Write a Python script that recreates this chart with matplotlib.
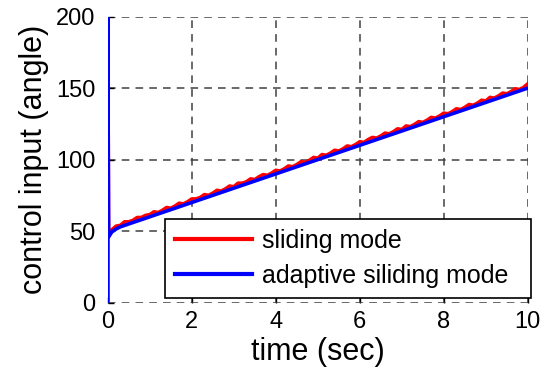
import matplotlib
matplotlib.use("Agg")
import matplotlib.pyplot as plt

plt.rcParams['font.family'] = ['Liberation Sans', 'DejaVu Sans']

# time samples (sec)
t_sliding = [0, 0, 0.02,
             0.1, 0.2, 0.3, 0.4, 0.5, 0.6, 0.7, 0.8, 0.9, 1.0,
             1.1, 1.2, 1.3, 1.4, 1.5, 1.6, 1.7, 1.8, 1.9, 2.0,
             2.1, 2.2, 2.3, 2.4, 2.5, 2.6, 2.7, 2.8, 2.9, 3.0,
             3.1, 3.2, 3.3, 3.4, 3.5, 3.6, 3.7, 3.8, 3.9, 4.0,
             4.1, 4.2, 4.3, 4.4, 4.5, 4.6, 4.7, 4.8, 4.9, 5.0,
             5.1, 5.2, 5.3, 5.4, 5.5, 5.6, 5.7, 5.8, 5.9, 6.0,
             6.1, 6.2, 6.3, 6.4, 6.5, 6.6, 6.7, 6.8, 6.9, 7.0,
             7.1, 7.2, 7.3, 7.4, 7.5, 7.6, 7.7, 7.8, 7.9, 8.0,
             8.1, 8.2, 8.3, 8.4, 8.5, 8.6, 8.7, 8.8, 8.9, 9.0,
             9.1, 9.2, 9.3, 9.4, 9.5, 9.6, 9.7, 9.8, 9.9, 10.0]
u_sliding = [0, 200, 46,
             51, 53.5, 54, 56.5, 56.5, 57.5, 59.5, 59.5, 61, 61.5,
             63.5, 63, 64.5, 66.5, 66, 67.5, 69.5, 69, 70.5, 72.5,
             72.5, 73.5, 75.5, 75, 76.5, 78.5, 78, 79.5, 81.5, 81,
             83.5, 83.5, 84.5, 86.5, 86, 88, 89.5, 89, 90.5, 92.5,
             92, 93.5, 95.5, 95, 96.5, 98.5, 98, 99.5, 101.5, 101,
             103.5, 103, 104.5, 106.5, 106, 107.5, 109.5, 109, 110.5, 112.5,
             112, 114, 115.5, 115, 116.5, 118.5, 118, 119.5, 121.5, 121,
             123.5, 123, 124.5, 126.5, 126, 127.5, 129.5, 129, 130.5, 132.5,
             132, 133.5, 135.5, 135, 136.5, 138.5, 138, 139.5, 141.5, 141,
             143.5, 143, 144.5, 146.5, 146, 147.5, 149.5, 149, 150.5, 153]

t_adaptive = [0, 0, 0.02, 0.1, 0.2, 0.3, 0.4, 0.6, 0.8, 1.0, 1.5, 2.0, 3.0,
              4.0, 5.0, 6.0, 7.0, 8.0, 9.0, 10.0]
u_adaptive = [0, 200, 46, 49.5, 51.5, 53, 54, 56, 58, 60, 65, 70, 80, 90,
              100, 110, 120, 130, 140, 150]

x_ticks = [0, 2, 4, 6, 8, 10]
y_ticks = [0, 50, 100, 150, 200]

fig = plt.figure(figsize=(5.47, 3.85), dpi=100)
ax = fig.add_axes([0.197, 0.214, 0.768, 0.743])

ax.plot(t_sliding, u_sliding, color='#ff0000', lw=2.6, label='sliding mode')
ax.plot(t_adaptive, u_adaptive, color='#0000ff', lw=2.6,
        label='adaptive siliding mode')

ax.set_xlim(0, 10)
ax.set_ylim(0, 200)
ax.set_xticks(x_ticks)
ax.set_yticks(y_ticks)
ax.grid(True, linestyle=(0, (5, 4)), color='#404040', linewidth=1.1)
for s in ax.spines.values():
    s.set_visible(False)
ax.tick_params(direction='in', length=4, width=1, labelsize=17, colors='black')
ax.tick_params(axis='x', pad=6)
ax.tick_params(axis='y', pad=9)

ax.set_xlabel('time (sec)', fontsize=22, labelpad=3)
ax.set_ylabel('control input (angle)', fontsize=22, labelpad=5)

leg = ax.legend(loc='lower left', bbox_to_anchor=(0.136, 0.016, 0.871, 0.29),
                mode='expand', fontsize=18, handlelength=3.1,
                handletextpad=0.4, labelspacing=0.45, borderpad=0.4,
                borderaxespad=0, fancybox=False, framealpha=1,
                edgecolor='black')
leg.get_frame().set_linewidth(1.2)
for l in leg.get_lines():
    l.set_linewidth(3)

fig.savefig('out.png', dpi=100)
